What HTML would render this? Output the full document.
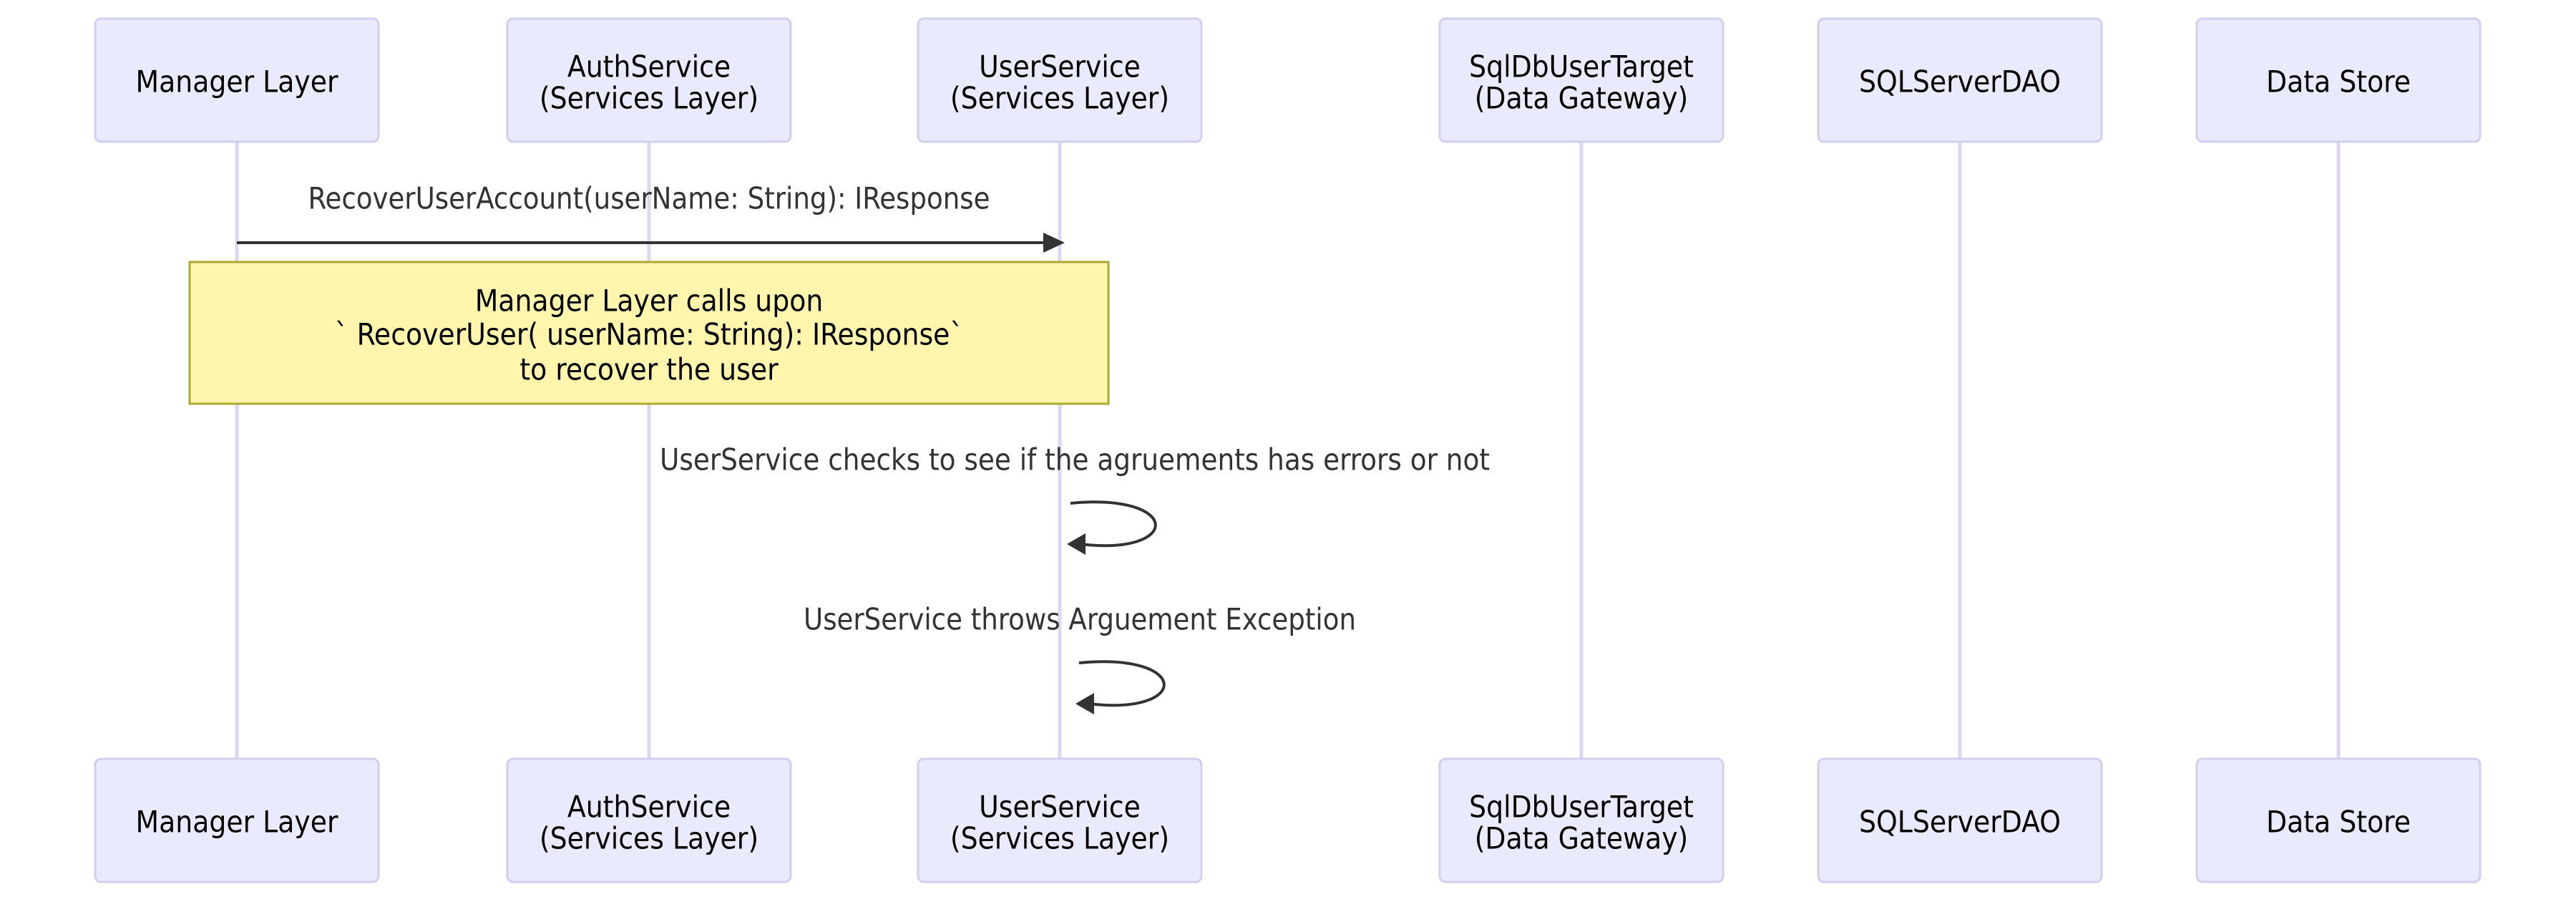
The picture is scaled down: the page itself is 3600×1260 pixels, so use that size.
<!DOCTYPE html>
<html><head><meta charset="utf-8"><style>
html,body{margin:0;padding:0;background:#fff;}
svg{display:block}
text{font-family:"DejaVu Sans Condensed","Liberation Sans",sans-serif;font-size:42px;fill:#000;text-anchor:middle;dominant-baseline:central}
.m{fill:#333}
</style></head><body>
<svg width="3600" height="1260" viewBox="0 0 3600 1260" xmlns="http://www.w3.org/2000/svg">
<g stroke="#dcd6f2" stroke-width="5">
<line x1="331" y1="198" x2="331" y2="1060"/>
<line x1="907" y1="198" x2="907" y2="1060"/>
<line x1="1481" y1="198" x2="1481" y2="1060"/>
<line x1="2210" y1="198" x2="2210" y2="1060"/>
<line x1="2739" y1="198" x2="2739" y2="1060"/>
<line x1="3268" y1="198" x2="3268" y2="1060"/>
</g>
<g fill="#eaeafd" stroke="#d3cdf0" stroke-width="3">
<rect x="133" y="26" width="396" height="172" rx="8"/>
<rect x="709" y="26" width="396" height="172" rx="8"/>
<rect x="1283" y="26" width="396" height="172" rx="8"/>
<rect x="2012" y="26" width="396" height="172" rx="8"/>
<rect x="2541" y="26" width="396" height="172" rx="8"/>
<rect x="3070" y="26" width="396" height="172" rx="8"/>
<rect x="133" y="1060" width="396" height="172" rx="8"/>
<rect x="709" y="1060" width="396" height="172" rx="8"/>
<rect x="1283" y="1060" width="396" height="172" rx="8"/>
<rect x="2012" y="1060" width="396" height="172" rx="8"/>
<rect x="2541" y="1060" width="396" height="172" rx="8"/>
<rect x="3070" y="1060" width="396" height="172" rx="8"/>
</g>
<g>
<text x="331" y="114">Manager Layer</text>
<text x="907" y="93">AuthService</text><text x="907" y="137">(Services Layer)</text>
<text x="1481" y="93">UserService</text><text x="1481" y="137">(Services Layer)</text>
<text x="2210" y="93">SqlDbUserTarget</text><text x="2210" y="137">(Data Gateway)</text>
<text x="2739" y="114">SQLServerDAO</text>
<text x="3268" y="114">Data Store</text>
<text x="331" y="1148">Manager Layer</text>
<text x="907" y="1127">AuthService</text><text x="907" y="1171">(Services Layer)</text>
<text x="1481" y="1127">UserService</text><text x="1481" y="1171">(Services Layer)</text>
<text x="2210" y="1127">SqlDbUserTarget</text><text x="2210" y="1171">(Data Gateway)</text>
<text x="2739" y="1148">SQLServerDAO</text>
<text x="3268" y="1148">Data Store</text>
</g>
<text class="m" x="907" y="277" textLength="953" lengthAdjust="spacingAndGlyphs">RecoverUserAccount(userName: String): IResponse</text>
<line x1="331" y1="339" x2="1462" y2="339" stroke="#333" stroke-width="4"/>
<path d="M1458,325 L1488,339 L1458,353 z" fill="#333"/>
<rect x="265" y="366" width="1284" height="198" fill="#fff5ad" stroke="#aaaa33" stroke-width="3"/>
<text x="907" y="420">Manager Layer calls upon</text>
<text x="907" y="467">` RecoverUser( userName: String): IResponse`</text>
<text x="907" y="516">to recover the user</text>
<text class="m" x="1502" y="642" textLength="1160" lengthAdjust="spacingAndGlyphs">UserService checks to see if the agruements has errors or not</text>
<path d="M1496,703 C1652,688 1652,777 1510,760" fill="none" stroke="#333" stroke-width="4"/>
<path d="M1491,760 L1517,745 L1517,775 z" fill="#333"/>
<text class="m" x="1509" y="865" textLength="772" lengthAdjust="spacingAndGlyphs">UserService throws Arguement Exception</text>
<path d="M1508,926 C1664,911 1664,1000 1522,983" fill="none" stroke="#333" stroke-width="4"/>
<path d="M1503,983 L1529,968 L1529,998 z" fill="#333"/>
</svg>
</body></html>
